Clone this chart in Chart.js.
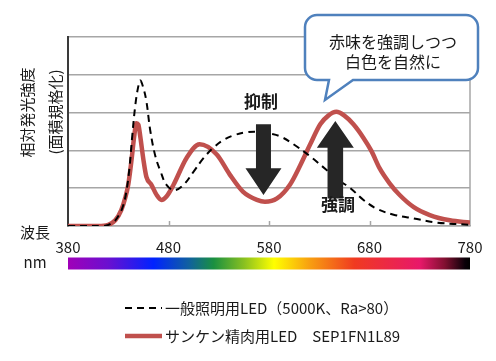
<!DOCTYPE html>
<html><head><meta charset="utf-8">
<script src="https://cdn.jsdelivr.net/npm/chart.js@4.4.1/dist/chart.umd.min.js"></script>
<style>html,body{margin:0;padding:0;background:#fff;}#wrap{width:496px;height:361px;}</style>
</head><body><div id="wrap"><canvas id="c" width="496" height="361"></canvas></div>
<script>
const FONT = "'Noto Sans CJK JP','Noto Sans',sans-serif";
const xTicks = [380, 480, 580, 680, 780];
const yTicks = [0, 1, 2, 3, 4, 5];
const seriesLabels = ['一般照明用LED（5000K、Ra>80）', 'サンケン精肉用LED　SEP1FN1L89'];
const yTitleLines = ['相対発光強度', '(面積規格化)'];
const xTitle = '波長';
const xUnit = 'nm';
const calloutLines = ['赤味を強調しつつ', '白色を自然に'];
const suppressLabel = '抑制';
const enhanceLabel = '強調';

const generalWl  = [380, 415, 425, 431, 435, 438, 441, 444, 447, 450, 452, 455, 458, 462, 467, 472, 478, 486, 495, 505, 515, 525, 535, 545, 558, 570, 582, 592, 604, 621, 637, 650, 661, 674, 687, 704, 724, 747, 780];
const generalVal = [0,   0,   0.1, 0.3, 0.55,0.9, 1.5, 2.4, 3.2, 3.7, 3.85,3.65,3.3, 2.5, 1.84,1.45,1.09,0.95,1.09,1.44,1.8, 2.08,2.28,2.4, 2.48,2.49,2.44,2.36,2.17,1.84,1.49,1.2, 1.0, 0.69,0.46,0.3, 0.2, 0.09,0.03];

const sankenWl  = [380, 410, 420, 427, 433, 437, 440, 443, 446, 448, 450, 452, 455, 458, 463, 468, 473, 478, 485, 498, 511, 528, 541, 554, 568, 576, 588, 601, 611, 621, 631, 639, 647, 655, 664, 674, 682, 690, 700, 710, 724, 740, 760, 780];
const sankenVal = [0,   0,   0.03,0.15,0.42,0.75,1.1, 1.7, 2.4, 2.72,2.68,2.35,1.76,1.3, 1.09,0.83,0.69,0.78,1.09,1.8, 2.16,1.89,1.36,0.91,0.69,0.64,0.73,1.1, 1.6, 2.16,2.69,2.92,3.02,2.92,2.69,2.33,1.98,1.53,1.13,0.82,0.5, 0.29,0.15,0.09];

// arrow annotations in data units: [wavelength, tailValue, headBaseValue, tipValue]
const downArrow = [574.5, 2.69, 1.53, 0.82];
const upArrow = [646, 0.73, 2.07, 2.78];

const spectrumStops = [
  [380, '#a000b8'], [420, '#6a10d0'], [465, '#0022ff'], [500, '#1060a0'],
  [525, '#1a9040'], [555, '#88c020'], [585, '#ffff00'], [620, '#f8a010'],
  [665, '#f03a20'], [730, '#e8186a'], [755, '#801030'], [775, '#0a0008'], [780, '#000000']
];

function toXY(wl, val) { return wl.map((w, i) => ({x: w, y: val[i]})); }

function drawArrow(ctx, x, y, spec, shaftHalf, headHalf) {
  const cx = x.getPixelForValue(spec[0]);
  const yT = y.getPixelForValue(spec[1]);
  const yB = y.getPixelForValue(spec[2]);
  const yP = y.getPixelForValue(spec[3]);
  ctx.beginPath();
  ctx.moveTo(cx - shaftHalf, yT);
  ctx.lineTo(cx + shaftHalf, yT);
  ctx.lineTo(cx + shaftHalf, yB);
  ctx.lineTo(cx + headHalf, yB);
  ctx.lineTo(cx, yP);
  ctx.lineTo(cx - headHalf, yB);
  ctx.lineTo(cx - shaftHalf, yB);
  ctx.closePath();
  ctx.fill();
}

const decor = {
  id: 'decor',
  beforeDatasetsDraw(chart) {
    const {ctx, chartArea: a, scales: {x}} = chart;
    ctx.save();
    ctx.strokeStyle = '#a6a6a6';
    ctx.lineWidth = 1.5;
    ctx.beginPath(); ctx.moveTo(a.right, a.top); ctx.lineTo(a.right, a.bottom); ctx.stroke();
    xTicks.slice(1, -1).forEach(v => {
      const px = Math.round(x.getPixelForValue(v)) + 0.5;
      ctx.beginPath(); ctx.moveTo(px, a.bottom); ctx.lineTo(px, a.bottom - 5); ctx.stroke();
    });
    ctx.restore();
  },
  afterDatasetsDraw(chart) {
    const {ctx, scales: {x, y}} = chart;
    ctx.save();
    ctx.fillStyle = '#262626';
    drawArrow(ctx, x, y, downArrow, 7.5, 18);
    drawArrow(ctx, x, y, upArrow, 7.8, 18.5);
    ctx.font = 'bold 17px ' + FONT;
    ctx.textAlign = 'center';
    ctx.textBaseline = 'middle';
    ctx.fillStyle = '#1a1a1a';
    ctx.fillText(suppressLabel, 261, 101.5);
    ctx.fillText(enhanceLabel, 338, 205);

    // callout bubble
    const L = 305, R = 478, T = 15, B = 80, r = 12;
    ctx.beginPath();
    ctx.moveTo(L + r, T);
    ctx.lineTo(R - r, T);
    ctx.arcTo(R, T, R, T + r, r);
    ctx.lineTo(R, B - r);
    ctx.arcTo(R, B, R - r, B, r);
    ctx.lineTo(353, B);
    ctx.lineTo(325, 100);
    ctx.lineTo(329, B);
    ctx.lineTo(L + r, B);
    ctx.arcTo(L, B, L, B - r, r);
    ctx.lineTo(L, T + r);
    ctx.arcTo(L, T, L + r, T, r);
    ctx.closePath();
    ctx.fillStyle = '#ffffff';
    ctx.fill();
    ctx.strokeStyle = '#4f81bd';
    ctx.lineWidth = 2.5;
    ctx.stroke();
    ctx.fillStyle = '#1a1a1a';
    ctx.font = '16px ' + FONT;
    ctx.fillText(calloutLines[0], 393, 41.5);
    ctx.fillText(calloutLines[1], 393, 61.5);
    ctx.restore();
  },
  afterDraw(chart) {
    const {ctx, scales: {x}} = chart;
    ctx.save();
    ctx.fillStyle = '#1a1a1a';
    ctx.font = '15px ' + FONT;
    ctx.textAlign = 'center';
    ctx.textBaseline = 'middle';
    // y title
    ctx.save();
    ctx.translate(27, 112.5); ctx.rotate(-Math.PI / 2); ctx.fillText(yTitleLines[0], 0, 0);
    ctx.restore();
    ctx.save();
    ctx.translate(55, 112); ctx.rotate(-Math.PI / 2); ctx.fillText(yTitleLines[1], 0, 0);
    ctx.restore();
    ctx.fillText(xTitle, 35, 232);
    ctx.fillText(xUnit, 35, 262);
    // spectrum bar
    const x0 = x.getPixelForValue(xTicks[0]);
    const x1 = x.getPixelForValue(xTicks[xTicks.length - 1]);
    const g = ctx.createLinearGradient(x0, 0, x1, 0);
    spectrumStops.forEach(s => g.addColorStop((s[0] - xTicks[0]) / (xTicks[xTicks.length - 1] - xTicks[0]), s[1]));
    ctx.fillStyle = g;
    ctx.fillRect(x0, 257.5, x1 - x0, 12);
    // legend
    const ds = chart.data.datasets;
    const rows = [308, 336];
    ds.forEach((d, i) => {
      ctx.save();
      ctx.strokeStyle = d.borderColor;
      ctx.lineWidth = d.borderWidth;
      ctx.setLineDash(d.borderDash || []);
      ctx.lineCap = 'butt';
      ctx.beginPath(); ctx.moveTo(125, rows[i]); ctx.lineTo(162, rows[i]); ctx.stroke();
      ctx.restore();
      ctx.fillStyle = '#1a1a1a';
      ctx.textAlign = 'left';
      ctx.fillText(d.label, 165, rows[i]);
    });
    ctx.restore();
  }
};

new Chart(document.getElementById('c'), {
  type: 'line',
  data: {
    datasets: [
      {label: seriesLabels[0], data: toXY(generalWl, generalVal), borderColor: '#000000', borderWidth: 2, borderDash: [7, 5], tension: 0.4, fill: false},
      {label: seriesLabels[1], data: toXY(sankenWl, sankenVal), borderColor: '#c0504d', borderWidth: 4.5, cubicInterpolationMode: 'monotone', fill: false}
    ]
  },
  options: {
    responsive: false, animation: false, devicePixelRatio: 1,
    layout: {padding: {left: 68, right: 26, top: 37, bottom: 93}},
    plugins: {legend: {display: false}, tooltip: {enabled: false}},
    elements: {point: {radius: 0}},
    scales: {
      x: {
        type: 'linear', min: xTicks[0], max: xTicks[xTicks.length - 1],
        afterBuildTicks: s => { s.ticks = xTicks.map(v => ({value: v})); },
        grid: {display: false, drawTicks: false},
        border: {display: true, color: '#a6a6a6', width: 1.5},
        ticks: {padding: 12, color: '#1a1a1a', font: {family: FONT, size: 15}, autoSkip: false, maxRotation: 0}
      },
      y: {
        min: yTicks[0], max: yTicks[yTicks.length - 1],
        afterBuildTicks: s => { s.ticks = yTicks.map(v => ({value: v})); },
        grid: {color: '#a6a6a6', lineWidth: 1.5, drawTicks: false},
        border: {display: true, color: '#3a3a3a', width: 2},
        ticks: {display: false}
      }
    }
  },
  plugins: [decor]
});
</script></body></html>
